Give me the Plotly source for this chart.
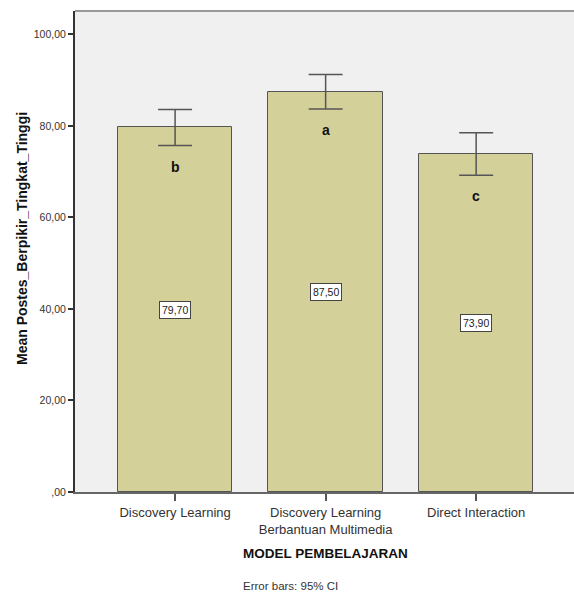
import plotly.graph_objects as go

categories = ["Discovery Learning", "Discovery Learning<br>Berbantuan Multimedia", "Direct Interaction"]
means = [79.70, 87.50, 73.90]
ci_low = [75.7, 83.7, 69.2]
ci_high = [83.6, 91.2, 78.5]
group_letters = ["b", "a", "c"]
value_labels = ["79,70", "87,50", "73,90"]
y_ticks = [0, 20, 40, 60, 80, 100]
y_tick_labels = [",00", "20,00", "40,00", "60,00", "80,00", "100,00"]

FONT = "Liberation Sans, Arial, sans-serif"
xs = list(range(len(categories)))

fig = go.Figure()
fig.add_trace(go.Bar(
    x=xs, y=means, width=0.76,
    marker=dict(color="#d4d09a", line=dict(color="#555555", width=1)),
    error_y=dict(type="data", symmetric=False,
                 array=[h - m for h, m in zip(ci_high, means)],
                 arrayminus=[m - l for m, l in zip(means, ci_low)],
                 color="#555555", thickness=1.5, width=17),
    hoverinfo="skip",
))

for x, m, lo, lab, let in zip(xs, means, ci_low, value_labels, group_letters):
    fig.add_annotation(x=x, y=m / 2, text=lab, showarrow=False,
                       font=dict(family=FONT, size=10.5, color="#222222"),
                       bgcolor="white", bordercolor="#444444", borderwidth=1, borderpad=2)
    fig.add_annotation(x=x, y=lo, text="<b>%s</b>" % let, showarrow=False,
                       yanchor="middle", yshift=-21,
                       font=dict(family=FONT, size=14, color="#111111"))

fig.add_annotation(xref="paper", yref="paper", x=(325.5 - 75) / 499, y=-(553 - 492) / 481,
                   text="<b>MODEL PEMBELAJARAN</b>", showarrow=False, yanchor="middle",
                   font=dict(family=FONT, size=13.5, color="#111111"))
fig.add_annotation(xref="paper", yref="paper", x=(290 - 75) / 499, y=-(586 - 492) / 481,
                   text="Error bars: 95% CI", showarrow=False, yanchor="middle",
                   font=dict(family=FONT, size=11.5, color="#333333"))
fig.add_annotation(xref="paper", yref="paper", x=(22 - 75) / 499, y=(492 - 239) / 481,
                   text="<b>Mean Postes_Berpikir_Tingkat_Tinggi</b>", showarrow=False,
                   textangle=-90, xanchor="center", yanchor="middle",
                   font=dict(family=FONT, size=14, color="#111111"))

fig.add_shape(type="line", xref="paper", yref="paper", x0=0, x1=1, y0=1, y1=1,
              line=dict(color="#999999", width=2))

fig.update_layout(
    width=574, height=592,
    margin=dict(l=75, r=0, t=11, b=100),
    paper_bgcolor="white", plot_bgcolor="#f0f0f0",
    showlegend=False, bargap=0,
    xaxis=dict(range=[-0.665, 2.65], tickvals=xs, ticktext=categories,
               ticks="outside", ticklen=7, tickcolor="#555555", tickwidth=1.5,
               showline=True, linecolor="#666666", linewidth=2,
               showgrid=False, zeroline=False, fixedrange=True,
               tickfont=dict(family=FONT, size=13, color="#333333")),
    yaxis=dict(range=[0, 105.1], tickvals=y_ticks, ticktext=y_tick_labels,
               ticks="outside", ticklen=5, tickcolor="#333333", tickwidth=1.5,
               showline=True, linecolor="#333333", linewidth=2,
               showgrid=False, zeroline=False, fixedrange=True,
               tickfont=dict(family=FONT, size=10.5, color="#333333")),
)

fig.write_html("out.html", config={"displayModeBar": False},
               post_script="document.body.style.margin='0';document.body.style.overflow='hidden';")
